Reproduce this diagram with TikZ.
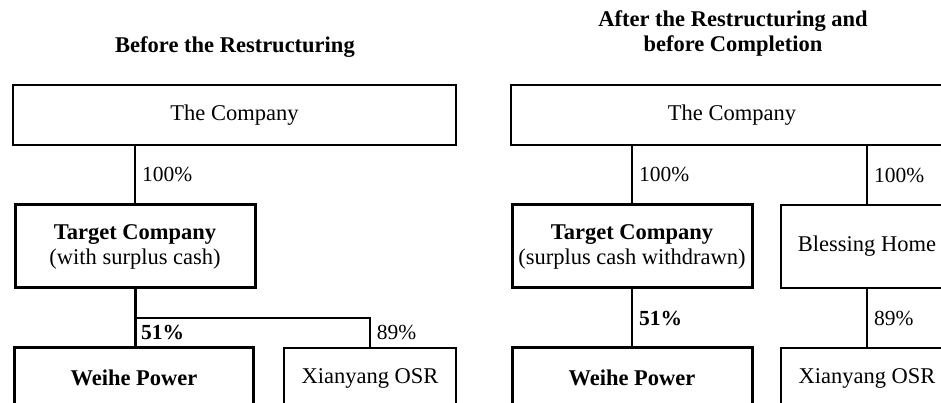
\documentclass[tikz,border=0pt]{standalone}
\usepackage{fontspec}
\setmainfont{Liberation Serif}
\usetikzlibrary{positioning}

\begin{document}
\begin{tikzpicture}[x=1pt, y=1pt,
    box/.style={draw, line width=2pt, font=\fontsize{22.5}{25}\selectfont, align=center, inner sep=0pt},
    boldbox/.style={box, line width=3pt},
    pct/.style={font=\fontsize{21.5}{24}\selectfont, inner sep=6pt, anchor=west},
    head/.style={font=\fontsize{22.5}{25}\selectfont\bfseries, align=center}]
    \path[use as bounding box, clip] (0, 0) rectangle (941, 403);
    % before the restructuring
    \node[head] (head1) at (235, 356) {Before the Restructuring};
    \node[box, minimum width=443, minimum height=60] (comp1) at (234.5, 288) {The Company};
    \node[boldbox, minimum width=240, minimum height=83] (targ1) at (135, 156.5) {\textbf{Target Company}\\(with surplus cash)};
    \node[boldbox, minimum width=239, minimum height=60] (weihe1) at (134, 25) {\textbf{Weihe Power}};
    \node[box, minimum width=172, minimum height=60] (xian1) at (370, 25) {Xianyang OSR};
    \coordinate (fork1) at (targ1.south |- 0, 85);
    \draw[line width=2pt] (comp1.south -| targ1.north) -- (targ1.north) node[pct, midway] {100\%};
    \draw[line width=3pt] (targ1.south) -- (targ1.south |- weihe1.north);
    \draw[line width=1.5pt] (fork1) -| (xian1.north) node[pct, pos=0.75] {89\%};
    \path (fork1) -- (fork1 |- weihe1.north) node[pct, midway, font=\fontsize{21.5}{24}\selectfont\bfseries] {51\%};
    % after the restructuring and before completion
    \node[head] (head2) at (733, 369.5) {After the Restructuring and\\before Completion};
    \node[box, minimum width=442, minimum height=60] (comp2) at (732, 288) {The Company};
    \node[boldbox, minimum width=240, minimum height=83] (targ2) at (632, 156.5) {\textbf{Target Company}\\(surplus cash withdrawn)};
    \node[box, minimum width=172, minimum height=83] (bless2) at (867, 156.5) {Blessing Home};
    \node[boldbox, minimum width=240, minimum height=60] (weihe2) at (632, 25) {\textbf{Weihe Power}};
    \node[box, minimum width=172, minimum height=60] (xian2) at (867, 25) {Xianyang OSR};
    \draw[line width=2pt] (comp2.south -| targ2.north) -- (targ2.north) node[pct, midway] {100\%};
    \draw[line width=2pt] (comp2.south -| bless2.north) -- (bless2.north) node[pct, midway] {100\%};
    \draw[line width=2pt] (targ2.south) -- (weihe2.north) node[pct, midway, font=\fontsize{21.5}{24}\selectfont\bfseries] {51\%};
    \draw[line width=2pt] (bless2.south) -- (xian2.north) node[pct, midway] {89\%};
\end{tikzpicture}
\end{document}
